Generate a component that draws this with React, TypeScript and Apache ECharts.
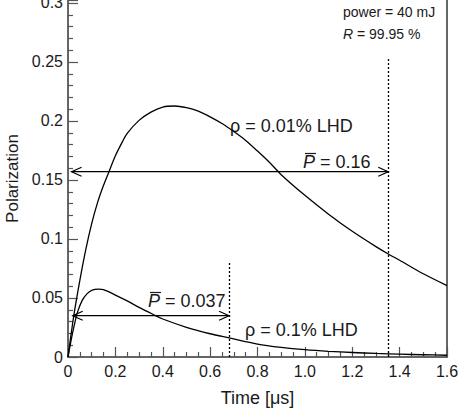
import React, { useEffect, useRef } from 'react';
import * as echarts from 'echarts';

// ρ = 0.01% LHD curve
const time1 = [0, 0.01, 0.02, 0.03, 0.05, 0.075, 0.1, 0.125, 0.15, 0.17, 0.2, 0.23, 0.25, 0.3, 0.35, 0.4, 0.45, 0.5, 0.55, 0.6, 0.65, 0.7, 0.75, 0.8, 0.85, 0.9, 1.0, 1.1, 1.2, 1.3, 1.35, 1.4, 1.5, 1.6];
const pol1 = [0, 0.015, 0.029, 0.042, 0.065, 0.091, 0.113, 0.131, 0.1455, 0.1555, 0.1705, 0.1825, 0.1895, 0.2005, 0.2075, 0.2118, 0.2127, 0.2113, 0.2083, 0.2035, 0.1978, 0.191, 0.1835, 0.1745, 0.165, 0.1545, 0.137, 0.121, 0.1065, 0.0935, 0.0875, 0.082, 0.0705, 0.0605];

// ρ = 0.1% LHD curve
const time2 = [0, 0.01, 0.02, 0.03, 0.04, 0.06, 0.08, 0.1, 0.128, 0.15, 0.2, 0.25, 0.3, 0.36, 0.4, 0.5, 0.6, 0.68, 0.8, 0.9, 1.0, 1.1, 1.2, 1.3, 1.4, 1.5, 1.6];
const pol2 = [0, 0.011, 0.021, 0.03, 0.038, 0.048, 0.0535, 0.0565, 0.0575, 0.057, 0.0525, 0.0475, 0.042, 0.036, 0.0322, 0.0252, 0.0197, 0.0162, 0.011, 0.0082, 0.0062, 0.0048, 0.0038, 0.003, 0.0024, 0.0019, 0.0015];

// mean-polarization arrows: start time, end time, level
const arrowStart = [0.015, 0.02];
const arrowEnd = [1.352, 0.68];
const arrowLevel = [0.157, 0.035];
// dotted markers: time, top
const markerTime = [1.352, 0.68];
const markerTop = [0.253, 0.08];

const xTicks = [0, 0.2, 0.4, 0.6, 0.8, 1.0, 1.2, 1.4, 1.6];

const FONT = 'Liberation Sans, Arial, sans-serif';
const INK = '#1a1a1a';

export default function App() {
  const ref = useRef<HTMLDivElement>(null);
  useEffect(() => {
    const chart = echarts.init(ref.current!, null, { renderer: 'svg' });
    const d1 = time1.map((t, i) => [t, pol1[i]]);
    const d2 = time2.map((t, i) => [t, pol2[i]]);
    const markData = markerTime.map((t, i) => [
      { coord: [t, 0] },
      { coord: [t, markerTop[i]] },
    ]);
    chart.setOption({
      animation: false,
      backgroundColor: '#fff',
      grid: { left: 68, right: 11, top: 0, bottom: 59, containLabel: false, outerBoundsMode: 'none' },
      xAxis: {
        type: 'value',
        min: 0,
        max: 1.6,
        interval: 0.2,
        name: 'Time [μs]',
        nameLocation: 'middle',
        nameGap: 32,
        nameTextStyle: { fontFamily: FONT, fontSize: 18, color: INK },
        axisLine: { lineStyle: { color: '#333', width: 1.5 } },
        axisTick: { inside: true, length: 10, lineStyle: { color: '#555', width: 1.2 } },
        minorTick: { show: true, splitNumber: 4, length: 5, lineStyle: { color: '#555', width: 1.2 } },
        splitLine: { show: false },
        axisLabel: {
          fontFamily: FONT,
          fontSize: 16,
          color: INK,
          margin: 6,
          formatter: (v: number) => {
            const hit = xTicks.find((x) => Math.abs(x - v) < 1e-6);
            if (hit === undefined) return '';
            return hit === 0 ? '0' : hit.toFixed(1);
          },
        },
      },
      yAxis: [
        {
          type: 'value',
          min: 0,
          max: 0.3025,
          interval: 0.05,
          name: 'Polarization',
          nameLocation: 'middle',
          nameGap: 38,
          nameTextStyle: { fontFamily: FONT, fontSize: 17, color: INK },
          axisLine: { show: true, lineStyle: { color: '#333', width: 1.5 } },
          axisTick: { inside: true, length: 10, lineStyle: { color: '#555', width: 1.2 } },
          minorTick: { show: true, splitNumber: 5, length: 5, lineStyle: { color: '#555', width: 1.2 } },
          splitLine: { show: false },
          axisLabel: {
            fontFamily: FONT,
            fontSize: 16,
            color: INK,
            margin: 5,
            formatter: (v: number) => {
              const k = Math.round(v / 0.05);
              if (Math.abs(k * 0.05 - v) > 1e-6) return '';
              return String(Math.round(k * 5) / 100);
            },
          },
        },
        {
          type: 'value',
          position: 'right',
          min: 0,
          max: 0.3025,
          axisLine: { show: true, lineStyle: { color: '#333', width: 1.5 } },
          axisTick: { show: false },
          axisLabel: { show: false },
          splitLine: { show: false },
        },
      ],
      series: [
        {
          type: 'line',
          data: d1,
          smooth: 0.3,
          symbol: 'none',
          lineStyle: { color: '#000', width: 1.3 },
          markLine: {
            silent: true,
            symbol: 'none',
            label: { show: false },
            lineStyle: { color: '#000', width: 1.3, type: [2, 2] },
            data: markData,
          },
        },
        {
          type: 'line',
          data: d2,
          smooth: 0.3,
          symbol: 'none',
          lineStyle: { color: '#000', width: 1.3 },
        },
      ],
    });

    const finder = { xAxisIndex: 0, yAxisIndex: 0 };
    const px = (t: number, p: number) => chart.convertToPixel(finder, [t, p]) as number[];
    const arrowGraphics: any[] = [];
    arrowStart.forEach((t0, i) => {
      const a = px(t0, arrowLevel[i]);
      const b = px(arrowEnd[i], arrowLevel[i]);
      const st = { stroke: '#000', lineWidth: 1.2, fill: 'none' };
      arrowGraphics.push({ type: 'line', shape: { x1: a[0], y1: a[1], x2: b[0], y2: b[1] }, style: st, silent: true });
      arrowGraphics.push({ type: 'polyline', shape: { points: [[a[0] + 10, a[1] - 4.5], [a[0], a[1]], [a[0] + 10, a[1] + 4.5]] }, style: st, silent: true });
      arrowGraphics.push({ type: 'polyline', shape: { points: [[b[0] - 10, b[1] - 4.5], [b[0], b[1]], [b[0] - 10, b[1] + 4.5]] }, style: st, silent: true });
    });

    const txt = (x: number, y: number, text: string, size: number, rich?: any) => ({
      type: 'text',
      x,
      y,
      silent: true,
      style: {
        text,
        fontFamily: FONT,
        fontSize: size,
        fill: INK,
        align: 'left',
        verticalAlign: 'middle',
        rich,
      },
    });
    const italic = (size: number) => ({ it: { fontStyle: 'italic', fontFamily: FONT, fontSize: size, fill: INK } });
    const over = (x: number, y: number) => ({
      type: 'line',
      silent: true,
      shape: { x1: x, y1: y, x2: x + 11, y2: y },
      style: { stroke: INK, lineWidth: 1.2 },
    });

    chart.setOption({
      graphic: [
        ...arrowGraphics,
        txt(343, 12, 'power = 40 mJ', 14),
        txt(343, 34, '{it|R} = 99.95 %', 14, italic(14)),
        txt(230, 126, 'ρ = 0.01% LHD', 18),
        txt(303, 162, '{it|P} = 0.16', 18, italic(18)),
        over(305, 153.5),
        txt(148, 301, '{it|P} = 0.037', 18, italic(18)),
        over(150, 292.5),
        txt(245, 330, 'ρ = 0.1% LHD', 18),
      ],
    });

    return () => chart.dispose();
  }, []);
  return <div ref={ref} style={{ position: 'fixed', left: 0, top: 0, width: 458, height: 416 }} />;
}
